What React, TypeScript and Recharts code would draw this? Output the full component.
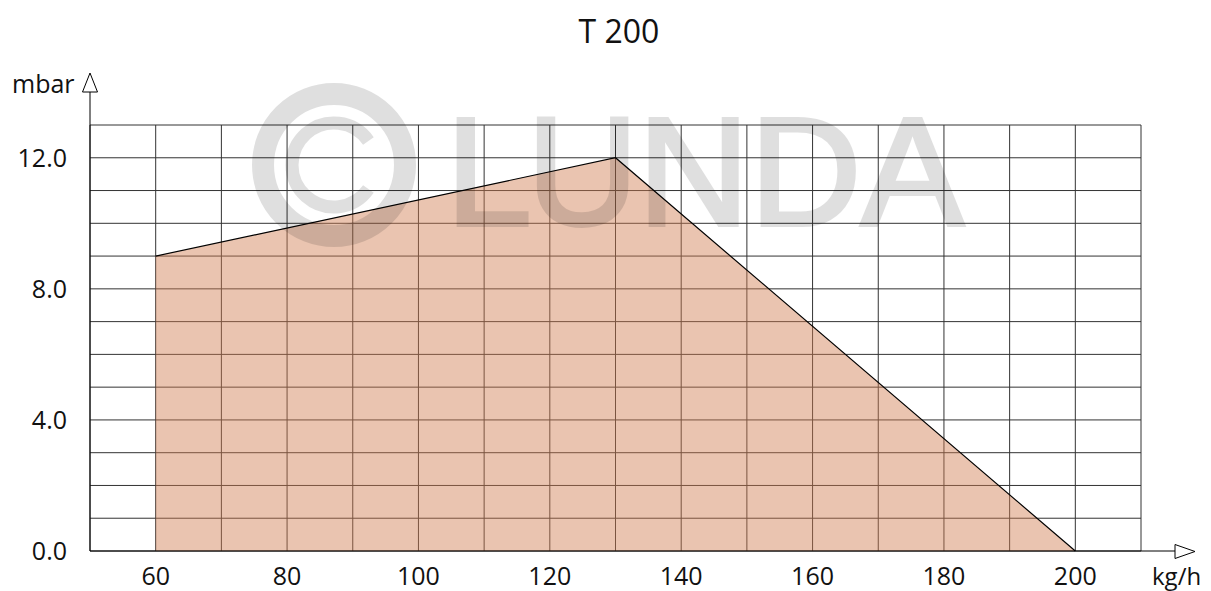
import React from 'react';
import { ComposedChart, Area, XAxis, YAxis, CartesianGrid } from 'recharts';

// working range of the burner: flow (kg/h) against pressure (mbar)
const flow = [60, 130, 200];
const pressure = [9, 12, 0];

const xTicks = [50, 60, 70, 80, 90, 100, 110, 120, 130, 140, 150, 160, 170, 180, 190, 200, 210];
const xLabels = [60, 80, 100, 120, 140, 160, 180, 200];
const yTicks = [0, 1, 2, 3, 4, 5, 6, 7, 8, 9, 10, 11, 12, 13];
const yLabels = [0, 4, 8, 12];

const data = flow.map((x, i) => ({ x, p: pressure[i] }));

const W = 1211;
const H = 591;
const FONT = '"Open Sans", sans-serif';
const tickStyle = { fontSize: 25, fill: '#111', fontFamily: FONT };

// watermark letters and where they start
const markLetters = ['L', 'U', 'N', 'D', 'A'];
const markX = [446, 527, 638, 750, 861];

const Watermark = () => (
  <g opacity={0.12}>
    <g fill="none" stroke="#000">
      <circle cx={334} cy={165} r={71} strokeWidth={22} />
      <path d="M 368.4 140.9 A 42 42 0 1 0 368.4 189.1" strokeWidth={13} />
    </g>
    <text
      y={225}
      fill="#000"
      stroke="#000"
      strokeWidth={4}
      fontFamily='"Liberation Sans", Arial, sans-serif'
      fontSize={154}
    >
      {markLetters.map((l, i) => (
        <tspan key={l} x={markX[i]}>
          {l}
        </tspan>
      ))}
    </text>
  </g>
);

export default function App() {
  return (
    <div style={{ position: 'absolute', left: 0, top: 0, width: W, height: H, background: '#fff' }}>
      <ComposedChart
        width={W}
        height={H}
        data={data}
        margin={{ top: 125, right: 70, bottom: 0, left: 0 }}
        style={{ fontFamily: FONT }}
      >
        <CartesianGrid stroke="#333" strokeWidth={1} />
        <XAxis
          dataKey="x"
          type="number"
          domain={[50, 210]}
          ticks={xTicks}
          interval={0}
          height={40}
          tickSize={0}
          tickLine={false}
          tickMargin={16}
          axisLine={{ stroke: '#000' }}
          tick={tickStyle}
          tickFormatter={(v: number) => (xLabels.includes(v) ? String(v) : '')}
        />
        <YAxis
          type="number"
          domain={[0, 13]}
          ticks={yTicks}
          interval={0}
          width={90}
          tickSize={0}
          tickLine={false}
          tickMargin={23}
          axisLine={{ stroke: '#000' }}
          tick={tickStyle}
          tickFormatter={(v: number) => (yLabels.includes(v) ? v.toFixed(1) : '')}
        />
        <Area
          type="linear"
          dataKey="p"
          stroke="#000"
          strokeWidth={1.2}
          fill="#D17C50"
          fillOpacity={0.45}
          isAnimationActive={false}
          dot={false}
          activeDot={false}
        />
      </ComposedChart>
      <svg
        width={W}
        height={H}
        style={{ position: 'absolute', left: 0, top: 0, pointerEvents: 'none' }}
      >
        <Watermark />
        <text x={619} y={43} textAnchor="middle" fontFamily={FONT} fontSize={32} fill="#111">
          T 200
        </text>
        <text x={12} y={93} fontFamily={FONT} fontSize={25} fill="#111">
          mbar
        </text>
        <text x={1152} y={585} fontFamily={FONT} fontSize={24} fill="#111">
          kg/h
        </text>
        {/* axis arrows */}
        <line x1={90} y1={125} x2={90} y2={92} stroke="#000" />
        <polygon points="82.5,92 97.5,92 90,73" fill="#fff" stroke="#000" />
        <line x1={1141} y1={551} x2={1175} y2={551} stroke="#000" />
        <polygon points="1175,544.5 1175,558.5 1195,551.5" fill="#fff" stroke="#000" />
      </svg>
    </div>
  );
}
